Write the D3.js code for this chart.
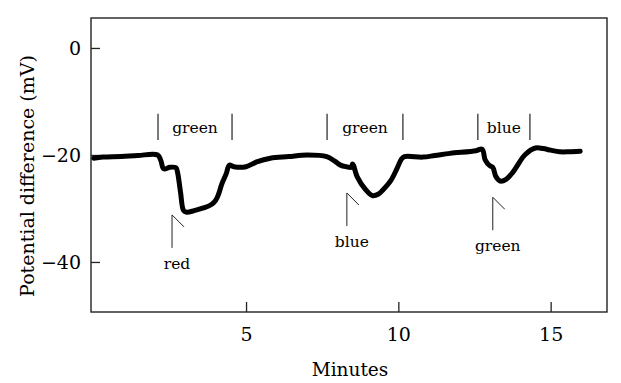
<!DOCTYPE html>
<html>
<head>
<meta charset="utf-8">
<script src="https://cdn.jsdelivr.net/npm/d3@7"></script>
<style>
  html, body { margin: 0; padding: 0; background: #fff; }
  svg { display: block; }
  text { font-family: "DejaVu Serif", "Liberation Serif", serif; fill: #000; }
</style>
</head>
<body>
<svg id="chart" width="621" height="383"></svg>
<script>
// ---- data ----
const timeMin = [0, 0.3, 0.9, 1.45, 2.1, 2.2, 2.3, 2.5, 2.7, 2.75, 2.85, 2.95, 3.05, 3.3, 3.6, 3.85, 4.0, 4.1, 4.2, 4.35, 4.45, 4.6, 5.0, 5.35, 5.8, 6.4, 7.0, 7.65, 7.9, 8.1, 8.3, 8.45, 8.5, 8.65, 8.9, 9.15, 9.35, 9.5, 9.75, 9.95, 10.1, 10.2, 10.8, 11.2, 11.7, 12.55, 12.75, 12.85, 13.0, 13.1, 13.2, 13.35, 13.55, 13.75, 13.95, 14.15, 14.5, 14.75, 15.0, 15.3, 15.6, 15.97];
const potentialMV = [-20.6, -20.4, -20.3, -20.1, -20.0, -21.0, -22.6, -22.3, -22.4, -23.2, -27.0, -30.4, -30.7, -30.4, -29.9, -29.3, -28.5, -27.3, -25.5, -23.5, -21.9, -22.2, -22.2, -21.3, -20.6, -20.3, -20.0, -20.3, -21.1, -21.9, -22.2, -22.3, -21.7, -24.1, -26.3, -27.6, -27.3, -26.5, -24.8, -22.6, -20.8, -20.3, -20.4, -20.1, -19.7, -19.2, -18.9, -20.9, -22.0, -22.3, -24.0, -24.9, -24.5, -23.3, -21.6, -20.0, -18.7, -18.8, -19.1, -19.4, -19.4, -19.3];

const stimLabels = ["green", "green", "blue"];
const stimStart = [2.11, 7.66, 12.61];
const stimEnd = [4.54, 10.15, 14.32];

const markerLabels = ["red", "blue", "green"];
const markerTime = [2.57, 8.31, 13.1];
const markerTopMV = [-31.2, -27.1, -27.9];

const xTicks = [5, 10, 15];
const yTicks = [0, -20, -40];

// ---- layout ----
const svg = d3.select("#chart");
const L = 91, R = 607, T = 18, B = 312;
const x = d3.scaleLinear().domain([-0.09, 16.85]).range([L, R]);
const y = d3.scaleLinear().domain([-49.35, 5.6]).range([B, T]);

// frame
svg.append("rect")
  .attr("x", L).attr("y", T).attr("width", R - L).attr("height", B - T)
  .attr("fill", "none").attr("stroke", "#222").attr("stroke-width", 1.4);

// x axis (ticks pointing inward)
const xAxis = d3.axisBottom(x).tickValues(xTicks).tickSizeInner(-10).tickSizeOuter(0).tickPadding(16).tickFormat(d3.format("d"));
const gx = svg.append("g").attr("transform", `translate(0,${B})`).call(xAxis);
gx.select(".domain").remove();
gx.selectAll("line").attr("stroke", "#222").attr("stroke-width", 1.3);
gx.selectAll("text").style("font-size", "19px").attr("fill", "#000");

// y axis (ticks pointing inward)
const yAxis = d3.axisLeft(y).tickValues(yTicks).tickSizeInner(-9).tickSizeOuter(0).tickPadding(10)
  .tickFormat(d => d < 0 ? "\u2212" + Math.abs(d) : String(d));
const gy = svg.append("g").attr("transform", `translate(${L},0)`).call(yAxis);
gy.select(".domain").remove();
gy.selectAll("line").attr("stroke", "#222").attr("stroke-width", 1.3);
gy.selectAll("text").style("font-size", "19px").attr("fill", "#000")
  .style("font-family", "'DejaVu Serif', serif");

// axis titles
svg.append("text").attr("x", 350).attr("y", 376)
  .attr("text-anchor", "middle").style("font-size", "18.5px").text("Minutes");
svg.append("text")
  .attr("transform", `translate(34,176) rotate(-90)`)
  .attr("text-anchor", "middle").style("font-size", "19px").text("Potential difference (mV)");

// trace
const pts = timeMin.map((t, i) => [t, potentialMV[i]]);
svg.append("path").datum(pts)
  .attr("d", d3.line().x(d => x(d[0])).y(d => y(d[1])).curve(d3.curveCatmullRom.alpha(0.5)))
  .attr("fill", "none").attr("stroke", "#000").attr("stroke-width", 5)
  .attr("stroke-linejoin", "round").attr("stroke-linecap", "round");

// stimulus brackets
const barTop = y(-12.3), barBot = y(-17.2);
stimLabels.forEach((lab, i) => {
  [stimStart[i], stimEnd[i]].forEach(t => {
    svg.append("line").attr("x1", x(t)).attr("x2", x(t))
      .attr("y1", barTop).attr("y2", barBot)
      .attr("stroke", "#222").attr("stroke-width", 1.2);
  });
  svg.append("text").attr("x", (x(stimStart[i]) + x(stimEnd[i])) / 2).attr("y", 133)
    .attr("text-anchor", "middle").style("font-size", "15.5px").text(lab);
});

// markers (flags)
markerLabels.forEach((lab, i) => {
  const mx = x(markerTime[i]), my = y(markerTopMV[i]);
  svg.append("line").attr("x1", mx).attr("x2", mx).attr("y1", my).attr("y2", my + 33)
    .attr("stroke", "#222").attr("stroke-width", 1);
  svg.append("line").attr("x1", mx).attr("x2", mx + 12).attr("y1", my).attr("y2", my + 12)
    .attr("stroke", "#222").attr("stroke-width", 1);
  svg.append("text").attr("x", mx + 5).attr("y", my + 54)
    .attr("text-anchor", "middle").style("font-size", "15.5px").text(lab);
});
</script>
</body>
</html>
